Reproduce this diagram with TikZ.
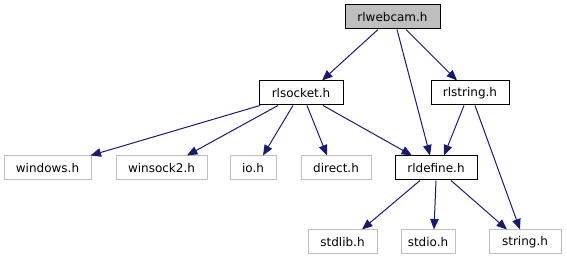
\documentclass[tikz,border=0pt]{standalone}
\usepackage{fontspec}
\setmainfont{DejaVu Sans}
\usetikzlibrary{arrows.meta}
\definecolor{edgeblue}{RGB}{25,25,112}
\definecolor{boxgray}{RGB}{191,191,191}
\tikzset{
  hdr/.style={draw=black, line width=1pt, fill=white, inner sep=0pt,
    minimum height=24pt, font=\fontsize{12}{14}\selectfont},
  sysinc/.style={hdr, draw=boxgray},
  rootfile/.style={hdr, fill=boxgray},
  incl/.style={draw=edgeblue, line width=1pt,
    -{Triangle[length=10.5pt,width=8.5pt]}},
}
\begin{document}
\begin{tikzpicture}[x=1pt,y=-1pt]
\useasboundingbox (0,0) rectangle (567,261);
% files of the project
\node[rootfile, minimum width=95pt] (webcam) at (392.5,17) {rlwebcam.h};
\node[hdr, minimum width=84pt] (socket) at (301,93) {rlsocket.h};
\node[hdr, minimum width=78pt] (string) at (470,93) {rlstring.h};
\node[hdr, minimum width=82pt] (define) at (436,168) {rldefine.h};
% system headers
\node[sysinc, minimum width=87pt] (windows) at (47.5,168) {windows.h};
\node[sysinc, minimum width=91pt] (winsock) at (161.5,168) {winsock2.h};
\node[sysinc, minimum width=46pt] (io) at (253,168) {io.h};
\node[sysinc, minimum width=70pt] (direct) at (336,168) {direct.h};
\node[sysinc, minimum width=69pt] (stdlib) at (342.5,242) {stdlib.h};
\node[sysinc, minimum width=54pt] (stdio) at (428,242) {stdio.h};
\node[sysinc, minimum width=72pt] (cstring) at (525,242) {string.h};
% include edges
\draw[incl] ([xshift=-14.5pt]webcam.south) -- ([xshift=21pt]socket.north);
\draw[incl] ([xshift=4.5pt]webcam.south) -- ([xshift=-6pt]define.north);
\draw[incl] ([xshift=13.5pt]webcam.south) -- ([xshift=-13pt]string.north);
\draw[incl] ([xshift=-41pt]socket.south) -- ([xshift=43pt]windows.north);
\draw[incl] ([xshift=-23pt]socket.south) -- ([xshift=25.5pt]winsock.north);
\draw[incl] ([xshift=-8pt]socket.south) -- ([xshift=10pt]io.north);
\draw[incl] ([xshift=6pt]socket.south) -- ([xshift=-9pt]direct.north);
\draw[incl] ([xshift=22pt]socket.south) -- ([xshift=-24pt]define.north);
\draw[incl] ([xshift=-6pt]string.south) -- ([xshift=8pt]define.north);
\draw[incl] ([xshift=5pt]string.south) -- ([xshift=-5pt]cstring.north);
\draw[incl] ([xshift=-16pt]define.south) -- ([xshift=19.5pt]stdlib.north);
\draw[incl] (define.south) -- ([xshift=6pt]stdio.north);
\draw[incl] ([xshift=15pt]define.south) -- ([xshift=-18pt]cstring.north);
\end{tikzpicture}
\end{document}
